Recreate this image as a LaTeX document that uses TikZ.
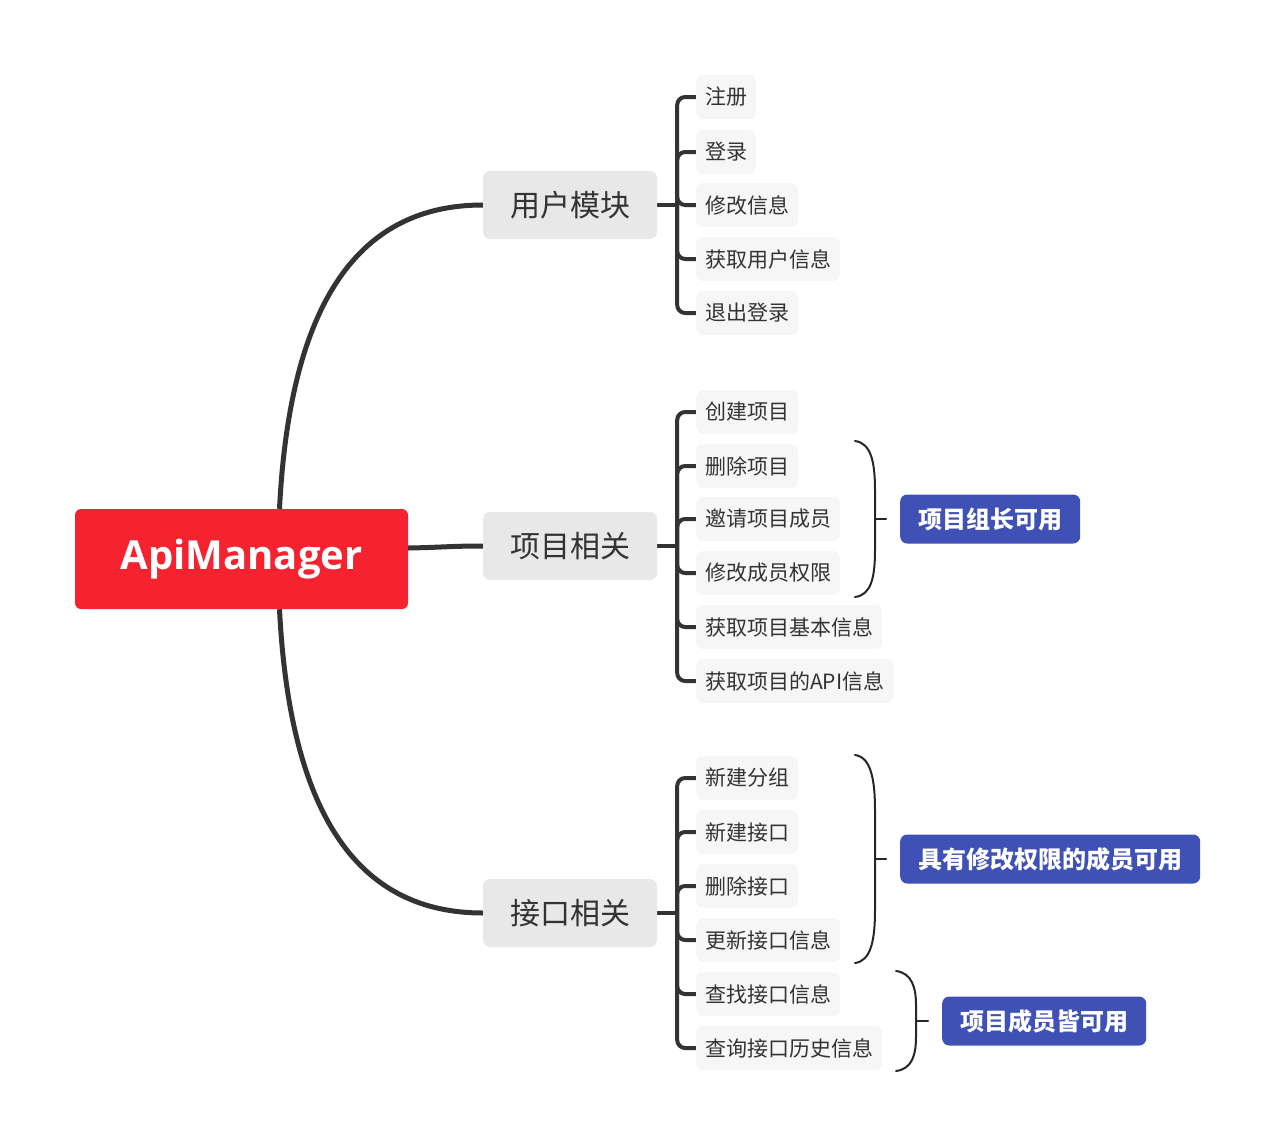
\documentclass[tikz,border=0pt]{standalone}
\usepackage{fontspec}
\setmainfont{Open Sans}
\newfontfamily\cjk{Noto Sans CJK SC}
\usetikzlibrary{backgrounds}
\definecolor{rootred}{HTML}{F5222F}
\definecolor{tagblue}{HTML}{3F51B5}
\definecolor{linegray}{HTML}{333333}
\definecolor{branchfill}{HTML}{E8E8E8}
\definecolor{leaffill}{HTML}{F6F6F6}
\tikzset{
  rootbox/.style={fill=rootred, rounded corners=6pt, minimum width=333pt, minimum height=100pt, text=white, font=\fontsize{40}{44}\selectfont\bfseries, inner sep=0pt},
  branchbox/.style={fill=branchfill, rounded corners=7pt, minimum width=174pt, minimum height=68pt, text=linegray, font=\cjk\fontsize{30}{34}\selectfont, inner sep=0pt},
  leafbox/.style={fill=leaffill, rounded corners=7pt, minimum height=44pt, inner xsep=9pt, inner ysep=0pt, anchor=west, text=linegray, font=\cjk\fontsize{21}{24}\selectfont},
  tagbox/.style={fill=tagblue, rounded corners=7pt, minimum height=49pt, inner xsep=18pt, inner ysep=0pt, anchor=west, text=white, font=\cjk\fontsize{24}{28}\selectfont\bfseries},
  mainconn/.style={draw=linegray, line width=5pt},
  treeconn/.style={draw=linegray, line width=4pt, rounded corners=8pt},
  braceline/.style={draw=black!85, line width=2pt, line cap=round},
}
\begin{document}
\begin{tikzpicture}[x=1pt,y=-1pt]
\useasboundingbox (0,0) rectangle (1275,1146);
% root
\node[rootbox] (root) at (241.5,559) {ApiManager};
% branches
\node[branchbox] (b1) at (570,205) {用户模块};
\node[branchbox] (b2) at (570,546) {项目相关};
\node[branchbox] (b3) at (570,913) {接口相关};
% leaves: user
\node[leafbox] (u1) at (696,97) {注册};
\node[leafbox] (u2) at (696,152) {登录};
\node[leafbox] (u3) at (696,205) {修改信息};
\node[leafbox] (u4) at (696,259) {获取用户信息};
\node[leafbox] (u5) at (696,313) {退出登录};
% leaves: project
\node[leafbox] (p1) at (696,412) {创建项目};
\node[leafbox] (p2) at (696,466) {删除项目};
\node[leafbox] (p3) at (696,519) {邀请项目成员};
\node[leafbox] (p4) at (696,573) {修改成员权限};
\node[leafbox] (p5) at (696,627) {获取项目基本信息};
\node[leafbox] (p6) at (696,681) {获取项目的API信息};
% leaves: interface
\node[leafbox] (i1) at (696,778) {新建分组};
\node[leafbox] (i2) at (696,832) {新建接口};
\node[leafbox] (i3) at (696,886) {删除接口};
\node[leafbox] (i4) at (696,940) {更新接口信息};
\node[leafbox] (i5) at (696,994) {查找接口信息};
\node[leafbox] (i6) at (696,1048) {查询接口历史信息};
% tags
\node[tagbox] (t1) at (900,519) {项目组长可用};
\node[tagbox] (t2) at (900,859) {具有修改权限的成员可用};
\node[tagbox] (t3) at (942,1021) {项目成员皆可用};

\begin{scope}[on background layer]
% root to branches
\draw[mainconn] ([xshift=38pt]root.north) .. controls (290,300) and (360,205) .. (b1.west);
\draw[mainconn] ([yshift=11pt]root.east) .. controls (440,547.5) and (450,546) .. (b2.west);
\draw[mainconn] ([xshift=38pt]root.south) .. controls (290,818) and (360,913) .. (b3.west);
% spines
\coordinate (s1) at ([xshift=20pt]b1.east);
\coordinate (s2) at ([xshift=20pt]b2.east);
\coordinate (s3) at ([xshift=20pt]b3.east);
\draw[treeconn] (b1.east) -- (s1);
\draw[treeconn] (b2.east) -- (s2);
\draw[treeconn] (b3.east) -- (s3);
\foreach \l in {u1,u2,u3,u4,u5} \draw[treeconn] (s1) |- (\l.west);
\foreach \l in {p1,p2,p3,p4,p5,p6} \draw[treeconn] (s2) |- (\l.west);
\foreach \l in {i1,i2,i3,i4,i5,i6} \draw[treeconn] (s3) |- (\l.west);
\end{scope}

% braces
\coordinate (k1) at ([xshift=-14pt]t1.west);
\draw[braceline] (855,441) .. controls (871,443) and (875,462) .. (875,490) -- (875,550) .. controls (875,578) and (871,595) .. (855,597);
\draw[braceline] (875,519) -- (k1);
\coordinate (k2) at ([xshift=-14pt]t2.west);
\draw[braceline] (855,755) .. controls (871,757) and (875,780) .. (875,810) -- (875,910) .. controls (875,940) and (871,961) .. (855,963);
\draw[braceline] (875,859) -- (k2);
\coordinate (k3) at ([xshift=-14pt]t3.west);
\draw[braceline] (896,971) .. controls (912,973) and (916,988) .. (916,1005) -- (916,1037) .. controls (916,1055) and (912,1069) .. (896,1071);
\draw[braceline] (916,1021) -- (k3);
\end{tikzpicture}
\end{document}
